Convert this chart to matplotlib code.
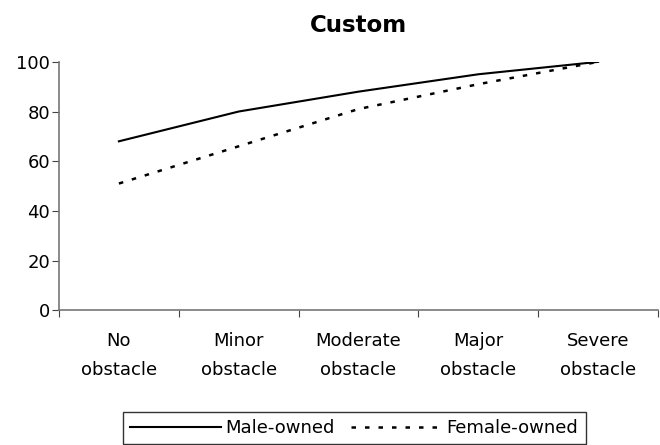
import matplotlib.pyplot as plt

plt.rcParams['font.family'] = ['DejaVu Sans']

categories = ['No\nobstacle', 'Minor\nobstacle', 'Moderate\nobstacle', 'Major\nobstacle', 'Severe\nobstacle']
male_owned = [68, 80, 88, 95, 100]
female_owned = [51, 66, 81, 91, 100]

fig = plt.figure(figsize=(6.6, 4.45), dpi=100)
ax = fig.add_axes([0.0894, 0.303, 0.9076, 0.558])

x = range(len(categories))
ax.plot(x, male_owned, color='black', linewidth=1.5, label='Male-owned')
ax.plot(x, female_owned, color='black', linewidth=1.8, linestyle=(0, (1.8, 3.6)), label='Female-owned')

ax.set_xlim(-0.5, len(categories) - 0.5)
ax.set_ylim(0, 100)
ax.set_yticks(range(0, 101, 20))
ax.set_xticks([i - 0.5 for i in range(len(categories) + 1)])
ax.set_xticklabels([])
ax.set_xticks(list(x), minor=True)
ax.set_xticklabels(categories, minor=True, fontsize=13, linespacing=1.75)
ax.tick_params(axis='x', which='minor', length=0, pad=16)
ax.tick_params(axis='x', which='major', direction='out', length=5, color='#444444')
ax.tick_params(axis='y', direction='out', length=5, labelsize=13, color='#444444', pad=1.5)

for s in ['top', 'right']:
    ax.spines[s].set_visible(False)
for s in ['left', 'bottom']:
    ax.spines[s].set_color('#777777')
    ax.spines[s].set_linewidth(1.2)

ax.set_title('Custom', fontsize=16.5, fontweight='bold', pad=21.5)

leg = fig.legend(loc='center', bbox_to_anchor=(0.537, 0.038), ncol=2, fontsize=13,
                 frameon=True, fancybox=False, edgecolor='black', handlelength=5.0,
                 handletextpad=0.28, columnspacing=0.9, borderpad=0.4)
leg.get_frame().set_linewidth(1.0)

fig.savefig('out.png', dpi=100)
